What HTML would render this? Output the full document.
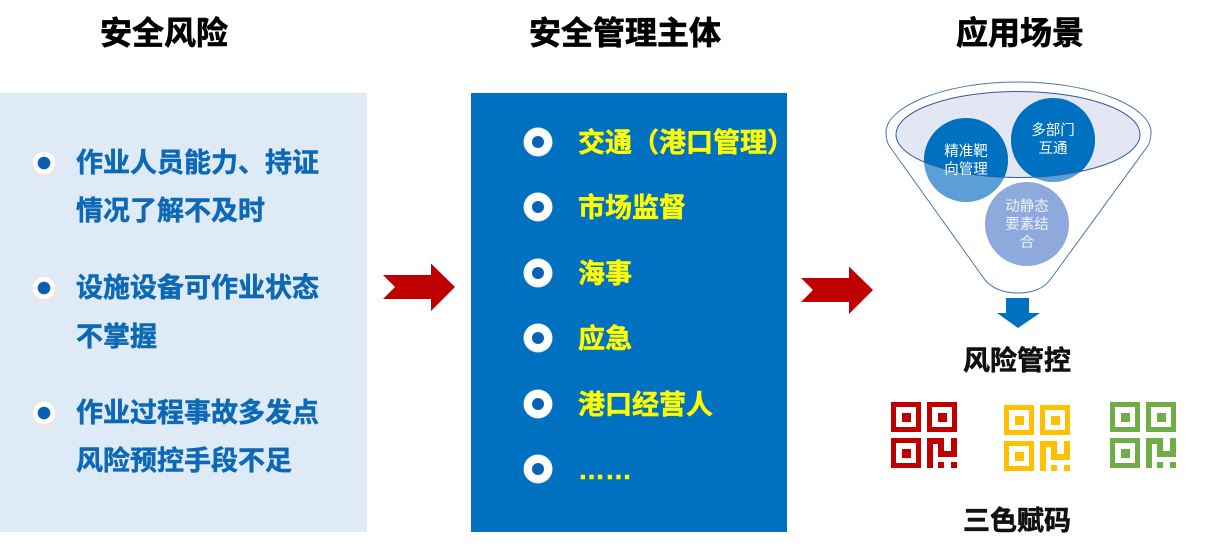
<!DOCTYPE html>
<html lang="zh"><head><meta charset="utf-8"><title>安全风险</title>
<style>html,body{margin:0;padding:0;background:#fff}svg{display:block}
text{font-family:"Liberation Sans","Noto Sans CJK SC",sans-serif}
.b{font-weight:700;stroke-linejoin:round}.t{font-size:32px;fill:#000;stroke:#000;stroke-width:.7px}.l{font-size:27px;fill:#0d69b6;stroke:#0d69b6;stroke-width:.5px}.y{font-size:27px;fill:#ffff00;stroke:#ffff00;stroke-width:.5px}.k{font-size:27px;fill:#111;stroke:#111;stroke-width:.6px}.c{font-size:14.500px;fill:#fff;text-anchor:middle}</style></head>
<body>
<svg width="1207" height="552" viewBox="0 0 1207 552" xmlns="http://www.w3.org/2000/svg">
<defs>
<clipPath id="e"><ellipse cx="1018" cy="134.500" rx="122" ry="43"/></clipPath>
<radialGradient id="w" cx=".5" cy=".44" r=".56"><stop offset=".82" stop-color="#fff"/><stop offset="1" stop-color="#ece6e0"/></radialGradient>
<filter id="s" x="-50%" y="-50%" width="200%" height="200%"><feGaussianBlur stdDeviation="1.800"/></filter>
<g id="bd"><circle r="14.500" fill="url(#w)"/><circle r="6" fill="#0a62b4"/></g>
<g id="bl"><circle cy="1.500" r="12.500" fill="#efe9e3" filter="url(#s)"/><circle r="11" fill="#fff"/><circle r="6.300" fill="#0a5fb0"/></g>
<path id="ar" d="M383 275H431V263.500L455 287 431 311V299H383L395 287Z" fill="#c00000"/>
<path id="qr" fill-rule="evenodd" d="M0 0H30V30H0ZM5 5V25H25V5ZM11 11H20V20H11ZM36 0H66V30H36ZM41 5V25H61V5ZM47 11H56V20H47ZM0 36H30V66H0ZM5 41V61H25V41ZM11 47H20V56H11ZM36 36H53V49H60V36H66V55H47V42H42V66H36ZM47 60H53V66H47ZM60 60H66V66H60Z"/>
</defs>
<rect x="0" y="93" width="367" height="439" fill="#deeaf5"/>
<rect x="471" y="93" width="316" height="439" fill="#0070c0"/>
<text class="b t" x="100" y="44">安全风险</text>
<text class="b t" x="529" y="44">安全管理主体</text>
<text class="b t" x="956" y="44">应用场景</text>

<use href="#bl" x="44" y="163"/><use href="#bl" x="44" y="288"/><use href="#bl" x="44" y="413"/>
<text class="b l" x="76" y="172">作业人员能力、持证</text>
<text class="b l" x="76" y="220">情况了解不及时</text>
<text class="b l" x="76" y="297">设施设备可作业状态</text>
<text class="b l" x="76" y="346">不掌握</text>
<text class="b l" x="76" y="422">作业过程事故多发点</text>
<text class="b l" x="76" y="470">风险预控手段不足</text>

<use href="#ar"/><use href="#ar" x="418" y="3"/>

<use href="#bd" x="538" y="142"/><use href="#bd" x="538" y="207"/><use href="#bd" x="538" y="273"/><use href="#bd" x="538" y="338"/><use href="#bd" x="538" y="404"/><use href="#bd" x="538" y="469"/>
<text class="b y" x="578" y="152">交通（港口管理）</text>
<text class="b y" x="578" y="217">市场监督</text>
<text class="b y" x="578" y="283">海事</text>
<text class="b y" x="578" y="348">应急</text>
<text class="b y" x="578" y="414">港口经营人</text>
<text class="b y" x="578" y="479">……</text>

<path d="M1018 82C1095 82 1151 108 1151 132C1151 138 1150 143 1147 147L1050 280C1044 288 1033 293 1018 293C1003 293 992 288 985 280L890 147C887 143 886 138 886 132C886 108 941 82 1018 82Z" fill="#fff" stroke="#4f76a8" stroke-width="1"/>
<ellipse cx="1018" cy="134.500" rx="122" ry="43" fill="#e3e7f3"/>
<circle cx="966" cy="160" r="42" fill="#5c9fd6"/>
<circle cx="1053" cy="140" r="42" fill="#5c9fd6"/>
<g clip-path="url(#e)"><circle cx="966" cy="160" r="42" fill="#0070c0"/><circle cx="1053" cy="140" r="42" fill="#0070c0"/></g>
<ellipse cx="1018" cy="134.500" rx="122" ry="43" fill="none" stroke="#2f5c9c" stroke-width="1"/>
<circle cx="1027" cy="224" r="42" fill="#8ea9db"/>
<text class="c" x="966" y="156">精准靶</text><text class="c" x="966" y="174">向管理</text>
<text class="c" x="1053" y="135">多部门</text><text class="c" x="1053" y="153">互通</text>
<text class="c" x="1027" y="211" style="fill:#eef1f8">动静态</text><text class="c" x="1027" y="229" style="fill:#eef1f8">要素结</text><text class="c" x="1027" y="247" style="fill:#eef1f8">合</text>

<path d="M1006 298H1029V313H1040L1018 328 997 313H1006Z" fill="#0070c0"/>
<text class="b k" x="963" y="370">风险管控</text>
<use href="#qr" x="891" y="402" fill="#c00000"/>
<use href="#qr" x="1004" y="405" fill="#ffc000"/>
<use href="#qr" x="1110" y="402" fill="#70ad47"/>
<text class="b k" x="963" y="530">三色赋码</text>
</svg>
</body></html>
